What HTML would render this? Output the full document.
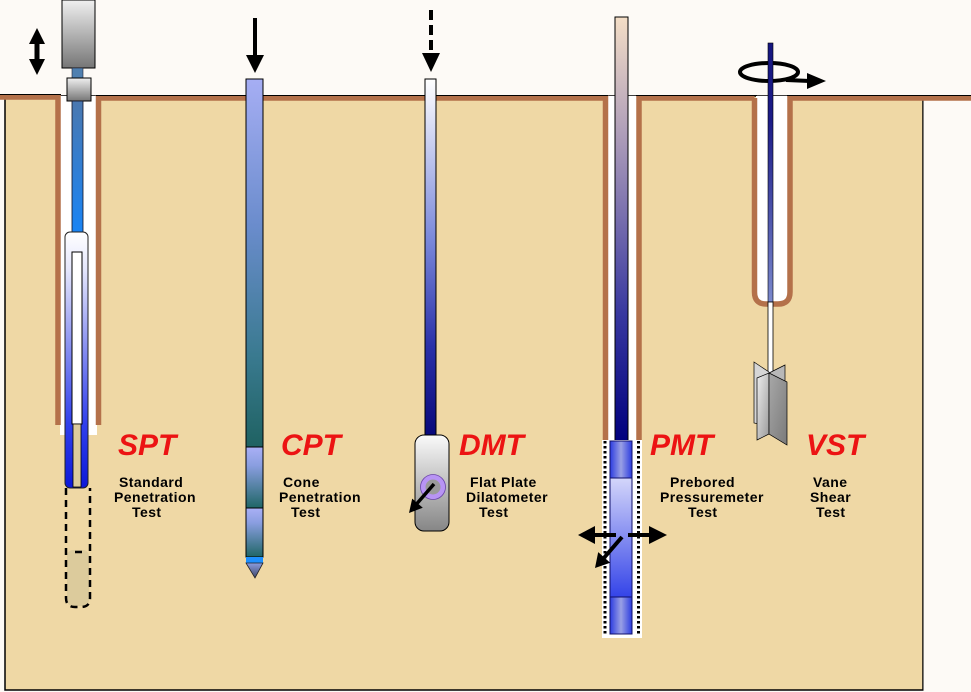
<!DOCTYPE html>
<html><head><meta charset="utf-8">
<style>
html,body{margin:0;padding:0;background:#fdfaf6;}
svg{display:block;}
text{font-family:"Liberation Sans",Arial,sans-serif;font-weight:bold;}
.r{fill:#ec1313;font-style:italic;font-size:30px;}
.b{fill:#000;font-size:14px;letter-spacing:0.45px;}
</style></head><body>
<svg width="971" height="692" viewBox="0 0 971 692" xmlns="http://www.w3.org/2000/svg">
<defs>
  <linearGradient id="gHam" x1="0" y1="0" x2="0" y2="1"><stop offset="0" stop-color="#f0f0f0"/><stop offset="1" stop-color="#767676"/></linearGradient>
  <linearGradient id="gSptRod" x1="0" y1="0" x2="0" y2="1"><stop offset="0" stop-color="#4a78b0"/><stop offset="1" stop-color="#1a84f4"/></linearGradient>
  <linearGradient id="gSamp" x1="0" y1="0" x2="0" y2="1"><stop offset="0" stop-color="#ffffff"/><stop offset="0.15" stop-color="#e4e6fc"/><stop offset="0.45" stop-color="#8890f0"/><stop offset="0.75" stop-color="#3040ec"/><stop offset="1" stop-color="#0c18d8"/></linearGradient>
  <linearGradient id="gCpt1" x1="0" y1="0" x2="0" y2="1"><stop offset="0" stop-color="#a6aef4"/><stop offset="0.4" stop-color="#6a8ccc"/><stop offset="0.75" stop-color="#3a7a90"/><stop offset="1" stop-color="#1f6262"/></linearGradient>
  <linearGradient id="gCpt2" x1="0" y1="0" x2="0" y2="1"><stop offset="0" stop-color="#aab0f6"/><stop offset="0.3" stop-color="#8a9ee0"/><stop offset="1" stop-color="#1f6666"/></linearGradient>
  <linearGradient id="gCone" x1="0" y1="0" x2="0" y2="1"><stop offset="0" stop-color="#8a9ce0"/><stop offset="1" stop-color="#404868"/></linearGradient>
  <linearGradient id="gDmtRod" x1="0" y1="0" x2="0" y2="1"><stop offset="0" stop-color="#ffffff"/><stop offset="0.45" stop-color="#7a88da"/><stop offset="0.75" stop-color="#2a30a8"/><stop offset="1" stop-color="#08087a"/></linearGradient>
  <linearGradient id="gBlade" x1="0" y1="0" x2="0" y2="1"><stop offset="0" stop-color="#fafafa"/><stop offset="1" stop-color="#868686"/></linearGradient>
  <linearGradient id="gPmtRod" x1="0" y1="0" x2="0" y2="1"><stop offset="0" stop-color="#f4dec6"/><stop offset="0.3" stop-color="#a898b8"/><stop offset="0.7" stop-color="#3838a0"/><stop offset="1" stop-color="#00007e"/></linearGradient>
  <linearGradient id="gPmtEnd" x1="0" y1="0" x2="1" y2="0"><stop offset="0" stop-color="#2c3ce0"/><stop offset="0.5" stop-color="#9aa0e4"/><stop offset="1" stop-color="#2c3ce0"/></linearGradient>
  <linearGradient id="gPmtMid" x1="0" y1="0" x2="0" y2="1"><stop offset="0" stop-color="#d4d6fa"/><stop offset="1" stop-color="#3444e8"/></linearGradient>
  <linearGradient id="gVstRod" x1="0" y1="0" x2="0" y2="1"><stop offset="0" stop-color="#161680"/><stop offset="0.3" stop-color="#1c1c88"/><stop offset="1" stop-color="#7a88cc"/></linearGradient>
  <linearGradient id="gVane1" x1="0" y1="0" x2="1" y2="1"><stop offset="0" stop-color="#eeeeee"/><stop offset="1" stop-color="#9a9a9a"/></linearGradient>
  <linearGradient id="gVane2" x1="0" y1="0" x2="1" y2="1"><stop offset="0" stop-color="#a8a8a8"/><stop offset="1" stop-color="#7a7a7a"/></linearGradient>
</defs>

<!-- background -->
<rect x="0" y="0" width="971" height="692" fill="#fdfaf6"/>
<!-- sand -->
<rect x="5" y="96" width="918" height="594" fill="#efd8a5" stroke="#000" stroke-width="1.5"/>

<!-- borehole whites -->
<rect x="60" y="96" width="37" height="339" fill="#ffffff"/>
<rect x="608" y="96" width="29" height="346" fill="#ffffff"/>
<path d="M756,96 V292 Q756,302 766,302 H778 Q788,302 788,292 V96 Z" fill="#ffffff"/>
<rect x="923.5" y="99" width="48" height="593" fill="#fdfaf6"/>

<!-- ground lines (brown) -->
<g fill="none" stroke="#b4714a" stroke-width="5.5">
  <polyline points="0,97 58,97 58,425"/>
  <polyline points="98.5,425 98.5,98 605.5,98 605.5,440"/>
  <polyline points="639,440 639,98 754.5,98"/>
  <path d="M754.5,98 V292 Q754.5,304 766,304 H778 Q790,304 790,292 V98 H971"/>
</g>
<g stroke="#000" stroke-width="1">
  <line x1="0" y1="94.5" x2="61" y2="94.5"/>
  <line x1="96" y1="95.5" x2="608" y2="95.5"/>
  <line x1="636" y1="95.5" x2="757" y2="95.5"/>
  <line x1="787" y1="95.5" x2="971" y2="95.5"/>
</g>

<!-- ===== SPT ===== -->
<line x1="37" y1="40" x2="37" y2="63" stroke="#000" stroke-width="5"/>
<polygon points="37,28 29,44 45,44" fill="#000"/>
<polygon points="37,75 29,59 45,59" fill="#000"/>
<rect x="62" y="0" width="33" height="68" fill="url(#gHam)" stroke="#000" stroke-width="1"/>
<rect x="72" y="68" width="11" height="11" fill="#5080b0" stroke="#223" stroke-width="0.6"/>
<rect x="67" y="78" width="24" height="23" fill="url(#gHam)" stroke="#000" stroke-width="1"/>
<rect x="72" y="101" width="11" height="131" fill="url(#gSptRod)" stroke="#112" stroke-width="0.8"/>
<rect x="65" y="232" width="23" height="256" rx="5" fill="url(#gSamp)" stroke="#222" stroke-width="1"/>
<rect x="72" y="252" width="10" height="172" fill="#ffffff" stroke="#000" stroke-width="1"/>
<rect x="73" y="424" width="8" height="63" fill="#dccb9c" stroke="#000" stroke-width="0.8"/>
<rect x="67" y="550" width="22" height="56" rx="6" fill="#dccb9c"/>
<path d="M66,488 V598 Q66,607 75,607 H81 Q90,607 90,598 V488" fill="none" stroke="#000" stroke-width="2.5" stroke-dasharray="7 5"/>
<line x1="75" y1="552" x2="82" y2="552" stroke="#000" stroke-width="2.5"/>

<!-- ===== CPT ===== -->
<line x1="255" y1="18" x2="255" y2="57" stroke="#000" stroke-width="4"/>
<polygon points="246,55 264,55 255,73" fill="#000"/>
<rect x="246" y="79" width="17" height="368" fill="url(#gCpt1)" stroke="#000" stroke-width="1"/>
<rect x="246" y="447" width="17" height="61" fill="url(#gCpt2)" stroke="#000" stroke-width="1"/>
<rect x="246" y="508" width="17" height="49" fill="url(#gCpt2)" stroke="#000" stroke-width="1"/>
<rect x="246" y="557" width="17" height="6" fill="#1e90ff"/>
<polygon points="246,563 263,563 255,578" fill="url(#gCone)" stroke="#222" stroke-width="0.8"/>

<!-- ===== DMT ===== -->
<line x1="431" y1="10" x2="431" y2="52" stroke="#000" stroke-width="4" stroke-dasharray="10 5"/>
<polygon points="422,53 440,53 431,72" fill="#000"/>
<rect x="425" y="79" width="11" height="357" fill="url(#gDmtRod)" stroke="#000" stroke-width="1"/>
<rect x="415" y="435" width="34" height="96" rx="9" fill="url(#gBlade)" stroke="#000" stroke-width="1"/>
<circle cx="433" cy="487" r="10" fill="#9a9a9a" stroke="#b894f4" stroke-width="5"/>
<circle cx="433" cy="487" r="12.5" fill="none" stroke="#6a44a8" stroke-width="0.8"/>
<line x1="434" y1="484" x2="417" y2="503.5" stroke="#000" stroke-width="3.5"/>
<polygon points="409,513 422.8,507.7 412.2,498.6" fill="#000"/>

<!-- ===== PMT ===== -->
<rect x="615" y="17" width="13" height="424" fill="url(#gPmtRod)" stroke="#000" stroke-width="1"/>
<rect x="602" y="440" width="40" height="198" fill="#ffffff"/>
<line x1="605" y1="441" x2="605" y2="636" stroke="#000" stroke-width="3" stroke-dasharray="2.5 2.5"/>
<line x1="638.5" y1="441" x2="638.5" y2="636" stroke="#000" stroke-width="3" stroke-dasharray="2.5 2.5"/>
<rect x="610" y="441" width="22" height="37" fill="url(#gPmtEnd)" stroke="#10106a" stroke-width="1"/>
<rect x="610" y="478" width="22" height="119" fill="url(#gPmtMid)" stroke="#10106a" stroke-width="1"/>
<rect x="610" y="597" width="22" height="37" fill="url(#gPmtEnd)" stroke="#10106a" stroke-width="1"/>
<line x1="616" y1="535" x2="590" y2="535" stroke="#000" stroke-width="4"/>
<polygon points="578,535 595,526 595,544" fill="#000"/>
<line x1="628" y1="535" x2="652" y2="535" stroke="#000" stroke-width="4"/>
<polygon points="667,535 649,526 649,544" fill="#000"/>
<line x1="622" y1="537" x2="603" y2="559" stroke="#000" stroke-width="4"/>
<polygon points="595,568 610.2,562.7 598.2,552.1" fill="#000"/>

<!-- ===== VST ===== -->
<ellipse cx="769" cy="72" rx="29" ry="9" fill="none" stroke="#000" stroke-width="4"/>
<line x1="786" y1="80" x2="810" y2="81" stroke="#000" stroke-width="4"/>
<polygon points="826,81 807,73 807,89" fill="#000"/>
<rect x="768" y="43" width="5" height="259" fill="url(#gVstRod)" stroke="#000" stroke-width="0.6"/>
<rect x="768" y="302" width="5" height="72" fill="#ffffff" stroke="#000" stroke-width="0.8"/>
<polygon points="754,362 769,372 769,426 754,423" fill="#d6d6d6" stroke="#000" stroke-width="0.7"/>
<polygon points="785,365 769,373 769,382 785,384" fill="#b8b8b8" stroke="#000" stroke-width="0.7"/>
<polygon points="757,378 769,373 769,434 757,440" fill="url(#gVane1)" stroke="#000" stroke-width="0.7"/>
<polygon points="769,373 787,382 787,445 769,434" fill="url(#gVane2)" stroke="#000" stroke-width="0.7"/>

<!-- ===== Labels ===== -->
<text class="r" x="118" y="455">SPT</text>
<text class="r" x="281" y="455">CPT</text>
<text class="r" x="459" y="455">DMT</text>
<text class="r" x="650" y="455">PMT</text>
<text class="r" x="806" y="455">VST</text>

<text class="b" x="119" y="487">Standard</text>
<text class="b" x="114" y="502">Penetration</text>
<text class="b" x="132" y="517">Test</text>

<text class="b" x="283" y="487">Cone</text>
<text class="b" x="279" y="502">Penetration</text>
<text class="b" x="291" y="517">Test</text>

<text class="b" x="470" y="487">Flat Plate</text>
<text class="b" x="466" y="502">Dilatometer</text>
<text class="b" x="479" y="517">Test</text>

<text class="b" x="670" y="487">Prebored</text>
<text class="b" x="660" y="502">Pressuremeter</text>
<text class="b" x="688" y="517">Test</text>

<text class="b" x="813" y="487">Vane</text>
<text class="b" x="810" y="502">Shear</text>
<text class="b" x="816" y="517">Test</text>
</svg>
</body></html>
